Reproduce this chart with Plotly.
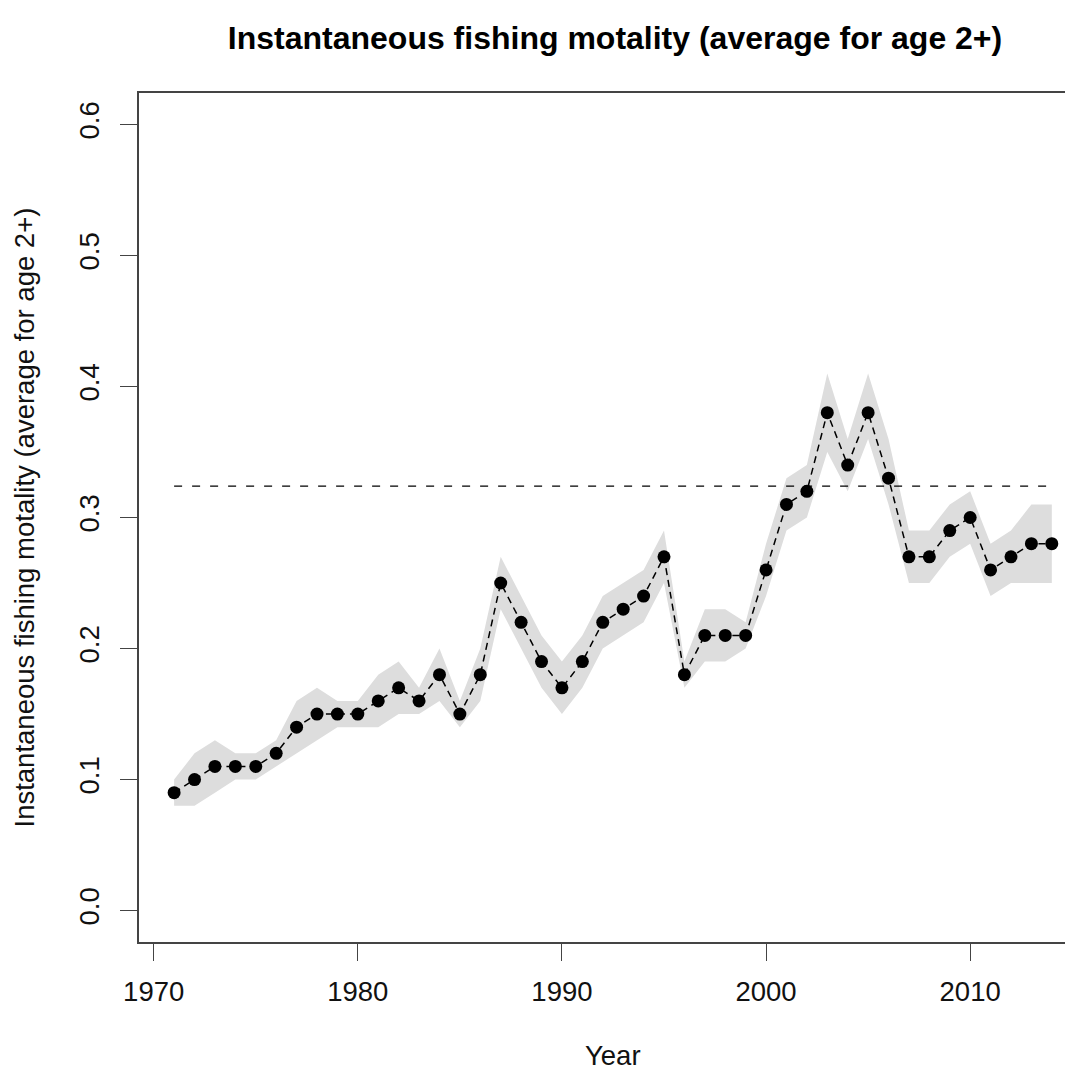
import plotly.graph_objects as go

years = list(range(1971, 2015))
f_avg = [0.09, 0.10, 0.11, 0.11, 0.11, 0.12, 0.14, 0.15, 0.15, 0.15,
         0.16, 0.17, 0.16, 0.18, 0.15, 0.18, 0.25, 0.22, 0.19, 0.17,
         0.19, 0.22, 0.23, 0.24, 0.27, 0.18, 0.21, 0.21, 0.21, 0.26,
         0.31, 0.32, 0.38, 0.34, 0.38, 0.33, 0.27, 0.27, 0.29, 0.30,
         0.26, 0.27, 0.28, 0.28]
f_lower = [0.08, 0.08, 0.09, 0.10, 0.10, 0.11, 0.12, 0.13, 0.14, 0.14,
           0.14, 0.15, 0.15, 0.16, 0.14, 0.16, 0.23, 0.20, 0.17, 0.15,
           0.17, 0.20, 0.21, 0.22, 0.25, 0.17, 0.19, 0.19, 0.20, 0.24,
           0.29, 0.30, 0.35, 0.32, 0.36, 0.31, 0.25, 0.25, 0.27, 0.28,
           0.24, 0.25, 0.25, 0.25]
f_upper = [0.10, 0.12, 0.13, 0.12, 0.12, 0.13, 0.16, 0.17, 0.16, 0.16,
           0.18, 0.19, 0.17, 0.20, 0.16, 0.20, 0.27, 0.24, 0.21, 0.19,
           0.21, 0.24, 0.25, 0.26, 0.29, 0.19, 0.23, 0.23, 0.22, 0.28,
           0.33, 0.34, 0.41, 0.36, 0.41, 0.36, 0.29, 0.29, 0.31, 0.32,
           0.28, 0.29, 0.31, 0.31]
ref_years = [1971, 2014]
ref_value = 0.324

x_ticks = [1970, 1980, 1990, 2000, 2010]
y_ticks = [0.0, 0.1, 0.2, 0.3, 0.4, 0.5, 0.6]
y_tick_labels = ["0.0", "0.1", "0.2", "0.3", "0.4", "0.5", "0.6"]

title_text = "Instantaneous fishing motality (average for age 2+)"
x_title = "Year"
y_title = "Instantaneous fishing motality (average for age 2+)"

FONT = "Liberation Sans, Arial, Helvetica, sans-serif"
AX = "#444444"
TXT = 27.5

fig = go.Figure()
fig.add_trace(go.Scatter(x=years, y=f_lower, mode="lines",
                         line=dict(width=0, color="rgba(0,0,0,0)"),
                         hoverinfo="skip", showlegend=False))
fig.add_trace(go.Scatter(x=years, y=f_upper, mode="lines", fill="tonexty",
                         fillcolor="#DDDDDD",
                         line=dict(width=0, color="rgba(0,0,0,0)"),
                         hoverinfo="skip", showlegend=False))
fig.add_trace(go.Scatter(x=ref_years, y=[ref_value, ref_value], mode="lines",
                         line=dict(color="black", width=1.3, dash="8px,10px"),
                         showlegend=False))
fig.add_trace(go.Scatter(x=years, y=f_avg, mode="lines+markers",
                         line=dict(color="black", width=1.5, dash="7px,5px"),
                         marker=dict(size=13, color="black"),
                         showlegend=False))

# page body has an 8px margin; the figure is sized/placed to compensate
W, H = 1065, 1063
L, T = 131, 85
PB = 933.7  # plot bottom in figure coords
fig.update_layout(
    width=W, height=H,
    margin=dict(l=L, r=2, t=T, b=H - PB, pad=0),
    paper_bgcolor="white", plot_bgcolor="white",
    font=dict(family=FONT, color="#111111", size=TXT),
    title=dict(text="<b>" + title_text + "</b>", x=(615 - 8) / W,
               xref="container", xanchor="center",
               y=1 - 30 / H, yref="container", yanchor="middle",
               font=dict(size=32, color="#000000", family=FONT)),
    xaxis=dict(range=[1969.28, 2014.94], tickvals=x_ticks,
               ticks="outside", ticklen=17, tickwidth=1.3, tickcolor=AX,
               showline=True, linecolor=AX, linewidth=1.6, mirror=True,
               showgrid=False, zeroline=False, ticklabelstandoff=7,
               tickfont=dict(size=TXT, color="#111111")),
    yaxis=dict(range=[-0.024, 0.624], tickvals=y_ticks, ticktext=y_tick_labels,
               ticks="outside", ticklen=17, tickwidth=1.3, tickcolor=AX,
               showline=True, linecolor=AX, linewidth=1.6, mirror=False,
               showgrid=False, zeroline=False, tickangle=-90,
               ticklabelstandoff=10,
               tickfont=dict(size=TXT, color="#111111")),
    annotations=[
        dict(text=x_title, xref="paper", yref="paper",
             x=(613 - 139) / 932, y=(PB - 1047) / (PB - T),
             xanchor="center", yanchor="middle", showarrow=False,
             font=dict(size=TXT, color="#111111")),
        dict(text=y_title, xref="paper", yref="paper",
             x=(16 - L) / 932, y=0.5, textangle=-90,
             xanchor="center", yanchor="middle", showarrow=False,
             font=dict(size=TXT, color="#111111")),
    ],
)

fig.write_html("out.html")
